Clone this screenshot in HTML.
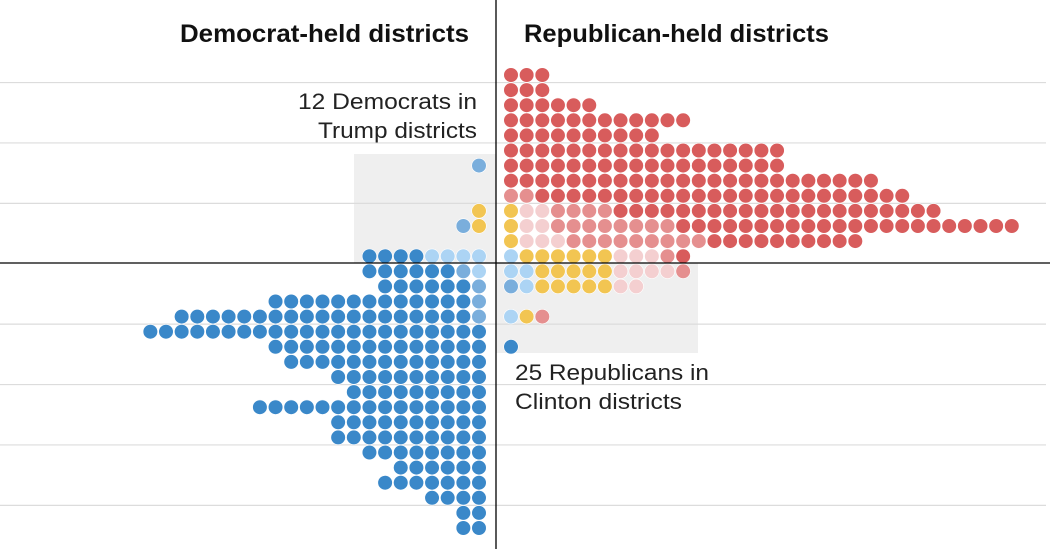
<!DOCTYPE html>
<html><head><meta charset="utf-8">
<style>
html,body{margin:0;padding:0;background:#fff;}
svg{display:block;font-family:"Liberation Sans",sans-serif;}
</style></head>
<body>
<svg id="chart" width="1050" height="549" viewBox="0 0 1050 549">
  <rect x="354" y="154" width="142" height="109" fill="#efefef"/>
  <rect x="496" y="263" width="202" height="90" fill="#efefef"/>
  <g id="grid"></g>
  <g id="dots"></g>
  <line x1="0" y1="263" x2="1050" y2="263" stroke="#000" stroke-width="1.3"/>
  <line x1="496" y1="0" x2="496" y2="549" stroke="#000" stroke-width="1.3"/>
  <text x="469" y="42" text-anchor="end" font-size="25" font-weight="bold" textLength="289" lengthAdjust="spacingAndGlyphs" fill="#111">Democrat-held districts</text>
  <text x="524" y="42" font-size="25" font-weight="bold" textLength="305" lengthAdjust="spacingAndGlyphs" fill="#111">Republican-held districts</text>
  <text x="477" y="109" text-anchor="end" font-size="22" textLength="179" lengthAdjust="spacingAndGlyphs" fill="#222">12 Democrats in</text>
  <text x="477" y="138" text-anchor="end" font-size="22" textLength="159" lengthAdjust="spacingAndGlyphs" fill="#222">Trump districts</text>
  <text x="515" y="380" font-size="22" textLength="194" lengthAdjust="spacingAndGlyphs" fill="#222">25 Republicans in</text>
  <text x="515" y="409" font-size="22" textLength="167" lengthAdjust="spacingAndGlyphs" fill="#222">Clinton districts</text>
</svg>
<script>
// Each row: string of category codes, ordered outward from the center axis.
// R=safe R, r=lean R, p=weak R, Y=toss-up, b=weak D, m=lean D, B=safe D
const rightRows = [
  "RRR","RRR","RRRRRR","RRRRRRRRRRRR","RRRRRRRRRR",
  "RRRRRRRRRRRRRRRRRR","RRRRRRRRRRRRRRRRRR","RRRRRRRRRRRRRRRRRRRRRRRR",
  "rrRRRRRRRRRRRRRRRRRRRRRRRR","YpprrrrRRRRRRRRRRRRRRRRRRRRR",
  "YpprrrrrrrrRRRRRRRRRRRRRRRRRRRRRR","YppprrrrrrrrrRRRRRRRRRR",
  "bYYYYYYppprR","bbYYYYYpppprR".slice(0,12),"mbYYYYYpp","","bYr","","B"
];
const leftRows = [
  "","","","","","","m","","","Y","Ym","",
  "bbbbBBBB","bmBBBBBB","mBBBBBB","mBBBBBBBBBBBBB","mBBBBBBBBBBBBBBBBBBB",
  "BBBBBBBBBBBBBBBBBBBBBB","BBBBBBBBBBBBBB","BBBBBBBBBBBBB","BBBBBBBBBB",
  "BBBBBBBBB","BBBBBBBBBBBBBBB","BBBBBBBBBB","BBBBBBBBBB","BBBBBBBB",
  "BBBBBB","BBBBBBB","BBBB","BB","BB"
];
const gridRows = [0.5,4.5,8.5,16.5,20.5,24.5,28.5];
const colors = {R:"#d85c5c",r:"#e58f8f",p:"#f4cfd0",Y:"#f2c552",b:"#acd4f4",m:"#7aaedc",B:"#3a88c9"};

const NS = "http://www.w3.org/2000/svg";
const pitchX = 15.65, pitchY = 15.1;
const yRow = i => 75 + i * pitchY;
const xRight = j => 511 + j * pitchX;
const xLeft = j => 479 - j * pitchX;

const grid = document.getElementById('grid');
gridRows.forEach(g => {
  const l = document.createElementNS(NS, 'line');
  l.setAttribute('x1', 0); l.setAttribute('x2', 1046);
  l.setAttribute('y1', yRow(g)); l.setAttribute('y2', yRow(g));
  l.setAttribute('stroke', '#dcdcdc'); l.setAttribute('stroke-width', 1.2);
  
  
  grid.appendChild(l);
});

const dots = document.getElementById('dots');
function drawSide(rows, xf, side) {
  rows.forEach((row, i) => {
    [...row].forEach((c, j) => {
      const ci = document.createElementNS(NS, 'circle');
      ci.setAttribute('cx', xf(j));
      ci.setAttribute('cy', yRow(i));
      ci.setAttribute('r', 7.3);
      ci.setAttribute('fill', colors[c]);
      ci.setAttribute('stroke', '#fff');
      ci.setAttribute('stroke-width', 0.6);
      
      
      dots.appendChild(ci);
    });
  });
}
drawSide(rightRows, xRight, 'republican');
drawSide(leftRows, xLeft, 'democrat');
</script>
</body></html>
